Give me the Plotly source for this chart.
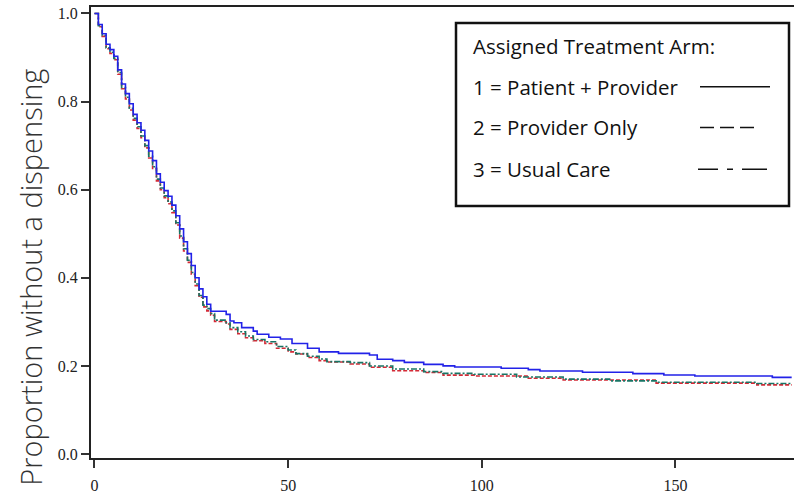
import plotly.graph_objects as go

# Kaplan-Meier estimates: days since start vs proportion without a dispensing
arm1_days = [0, 1, 2, 3, 4, 5, 6, 7, 8, 9, 10, 11, 12, 13, 14, 15, 16, 17, 18, 19,
             20, 21, 22, 23, 24, 25, 26, 27, 28, 29, 30, 34, 35, 36, 38, 41, 42, 45,
             48, 51, 55, 58, 63, 71, 73, 77, 80, 85, 90, 93, 105, 112, 115, 126, 139,
             147, 155, 175, 180]
arm1_surv = [1.000, 0.975, 0.954, 0.930, 0.918, 0.903, 0.872, 0.840, 0.818, 0.795,
             0.771, 0.752, 0.735, 0.712, 0.688, 0.666, 0.636, 0.617, 0.598, 0.585,
             0.565, 0.541, 0.511, 0.482, 0.455, 0.428, 0.400, 0.375, 0.357, 0.340,
             0.324, 0.317, 0.302, 0.298, 0.287, 0.279, 0.272, 0.265, 0.261, 0.251,
             0.240, 0.232, 0.2285, 0.2247, 0.215, 0.212, 0.208, 0.2036, 0.200, 0.1975,
             0.1946, 0.1916, 0.1885, 0.1855, 0.1826, 0.1795, 0.177, 0.174, 0.174]

arm2_days = [0, 1, 2, 3, 4, 5, 6, 7, 8, 9, 10, 11, 12, 13, 14, 15, 16, 17, 18, 19,
             20, 21, 22, 23, 24, 25, 26, 27, 28, 29, 30, 31, 34, 35, 37, 39, 41, 44,
             47, 50, 52, 55, 58, 60, 66, 71, 77, 85, 90, 98, 112, 121, 145, 171, 180]
arm2_surv = [1.000, 0.970, 0.948, 0.920, 0.909, 0.895, 0.862, 0.829, 0.806, 0.781,
             0.758, 0.739, 0.718, 0.695, 0.672, 0.648, 0.620, 0.600, 0.582, 0.568,
             0.548, 0.520, 0.490, 0.461, 0.435, 0.408, 0.382, 0.356, 0.334, 0.325,
             0.315, 0.301, 0.295, 0.283, 0.273, 0.264, 0.257, 0.251, 0.240, 0.232,
             0.227, 0.219, 0.212, 0.209, 0.2043, 0.197, 0.189, 0.185, 0.179, 0.177,
             0.172, 0.168, 0.161, 0.157, 0.157]

arm3_days = [0, 1, 2, 3, 4, 5, 6, 7, 8, 9, 10, 11, 12, 13, 14, 15, 16, 17, 18, 19,
             20, 21, 22, 23, 24, 25, 26, 27, 28, 29, 30, 31, 34, 35, 37, 39, 41, 44,
             47, 50, 52, 55, 58, 60, 66, 71, 77, 85, 90, 98, 109, 121, 133, 145, 171, 180]
arm3_surv = [1.000, 0.972, 0.950, 0.922, 0.912, 0.898, 0.866, 0.832, 0.810, 0.785,
             0.762, 0.743, 0.722, 0.700, 0.676, 0.652, 0.624, 0.604, 0.586, 0.572,
             0.552, 0.525, 0.495, 0.466, 0.440, 0.412, 0.386, 0.360, 0.338, 0.330,
             0.319, 0.304, 0.298, 0.287, 0.2775, 0.268, 0.260, 0.255, 0.244, 0.236,
             0.228, 0.222, 0.2157, 0.2097, 0.2074, 0.1998, 0.193, 0.187, 0.183, 0.181,
             0.175, 0.170, 0.166, 0.163, 0.160, 0.160]

y_ticks = [0.0, 0.2, 0.4, 0.6, 0.8, 1.0]
y_tick_text = ["0.0", "0.2", "0.4", "0.6", "0.8", "1.0"]
x_ticks = [0, 50, 100, 150]

legend_title = "Assigned Treatment Arm:"
arm_labels = ["1 = Patient + Provider", "2 = Provider Only", "3 = Usual Care"]

W, H = 794, 494
ML, MR, MT, MB = 91, 0, 7, 34
PW, PH = W - ML - MR, H - MT - MB


def px_x(px):
    return (px - ML) / PW


def px_y(py):
    return (H - MB - py) / PH


fig = go.Figure()

fig.add_trace(go.Scatter(
    x=arm2_days, y=arm2_surv, mode="lines", line_shape="hv",
    line=dict(color="#d42a36", width=1.6, dash="4px,2px"),
    name=arm_labels[1], showlegend=False))
fig.add_trace(go.Scatter(
    x=arm3_days, y=arm3_surv, mode="lines", line_shape="hv",
    line=dict(color="#187565", width=1.6, dash="6px,2px,2px,2px"),
    name=arm_labels[2], showlegend=False))
fig.add_trace(go.Scatter(
    x=arm1_days, y=arm1_surv, mode="lines", line_shape="hv",
    line=dict(color="#2222e8", width=1.6),
    name=arm_labels[0], showlegend=False))

tick_font = dict(family="Liberation Serif, serif", size=16, color="#222")

fig.update_xaxes(
    range=[-0.9, 180.6], tickvals=x_ticks, ticks="outside", ticklen=8, tickwidth=1.5,
    tickcolor="#333", showline=True, linecolor="#222", linewidth=2, mirror=True,
    showgrid=False, zeroline=False, tickfont=tick_font, ticklabelstandoff=4)
fig.update_yaxes(
    range=[-0.009, 1.0147], tickvals=y_ticks, ticktext=y_tick_text, ticks="outside",
    ticklen=8, tickwidth=1.5, tickcolor="#333", showline=True, linecolor="#222",
    linewidth=2, showgrid=False, zeroline=False, tickfont=tick_font)

annotations = [dict(
    text="Proportion without a dispensing", textangle=-90, showarrow=False,
    xref="paper", yref="paper", x=px_x(31), y=px_y(279),
    xanchor="center", yanchor="middle",
    font=dict(family="Open Sans, sans-serif", size=29, color="#333", weight=300))]

# Legend panel drawn as a framed text box with line samples
legend_font = dict(family="Open Sans, sans-serif", size=20.5, color="#111")
row_y = [46, 87, 128, 170]
annotations.append(dict(text=legend_title, showarrow=False, xref="paper", yref="paper",
                        x=px_x(471), y=px_y(row_y[0]), xanchor="left", yanchor="middle",
                        font=legend_font))
for label, ry in zip(arm_labels, row_y[1:]):
    annotations.append(dict(text=label, showarrow=False, xref="paper", yref="paper",
                            x=px_x(471), y=px_y(ry), xanchor="left", yanchor="middle",
                            font=legend_font))

shapes = [dict(type="rect", xref="paper", yref="paper",
               x0=px_x(456), x1=px_x(789), y0=px_y(207), y1=px_y(23),
               line=dict(color="#111", width=2.5), fillcolor="white", layer="above")]
sample_styles = [("solid", 700, 770), ("14px,6px", 700, 756),
                 ("20px,9px,6px,9px,25px", 698, 767)]
for (dash, x0, x1), ry in zip(sample_styles, row_y[1:]):
    shapes.append(dict(type="line", xref="paper", yref="paper",
                       x0=px_x(x0), x1=px_x(x1), y0=px_y(ry), y1=px_y(ry),
                       line=dict(color="#111", width=1.5, dash=dash), layer="above"))

fig.update_layout(
    width=W, height=H, margin=dict(l=ML, r=MR, t=MT, b=MB),
    paper_bgcolor="white", plot_bgcolor="white",
    annotations=annotations, shapes=shapes, showlegend=False)

fig.write_html("out.html")
